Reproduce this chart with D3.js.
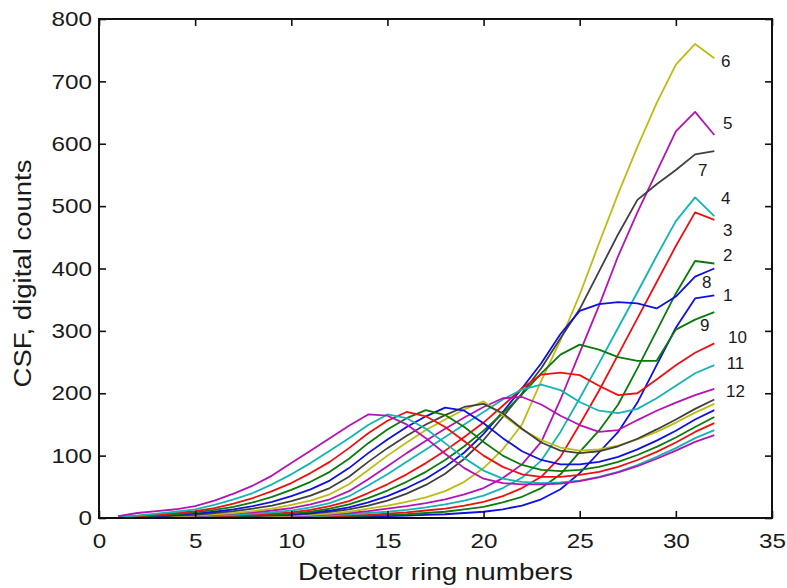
<!DOCTYPE html>
<html>
<head>
<meta charset="utf-8">
<script src="https://cdn.jsdelivr.net/npm/d3@7"></script>
<style>
  body { margin: 0; background: #fff; }
  text { font-family: "Liberation Sans", Arial, sans-serif; fill: #1a1a1a; }
</style>
</head>
<body>
<svg id="chart" width="787" height="588"></svg>
<script>
// detector rings 1..32
const rings = d3.range(1, 33);

// CSF curves, one per source position
const c1  = [0,0,0,0,0,0,0,1,1,1, 1,1,2,2,3,4,5,6,8,10, 14,20,30,46,72,105,138,185,245,305,352,357];
const c2  = [0,0,0,0,0,0,1,1,1,1, 2,2,3,4,5,6,8,10,14,18, 25,34,48,70,106,140,182,240,300,360,412,408];
const c3  = [0,0,0,0,0,1,1,1,1,2, 2,3,4,5,7,9,12,15,20,26, 35,48,66,98,150,204,262,320,378,436,490,478];
const c4  = [0,0,0,0,1,1,1,2,2,3, 3,4,6,8,10,13,17,22,28,36, 48,65,92,138,192,248,305,362,420,476,514,484];
const c5  = [0,0,0,1,1,1,2,2,3,3, 4,6,8,11,15,19,24,30,38,48, 64,86,122,190,265,340,420,490,555,620,651,614];
const c6  = [0,0,0,1,1,1,2,2,3,4, 5,7,10,15,20,26,33,43,58,80, 110,150,220,285,358,440,520,595,665,727,760,737];
const c7  = [0,0,1,1,1,2,2,3,4,5, 7,10,14,20,28,39,53,71,95,125, 162,200,240,288,335,395,455,510,535,558,583,588];
const c8  = [0,0,1,1,1,2,3,4,5,6, 8,12,17,25,35,48,63,82,105,135, 170,208,248,295,332,343,346,344,336,355,387,400];
const c9  = [0,0,1,1,2,2,3,4,5,7, 10,15,22,32,44,58,74,93,115,140, 168,198,232,262,278,270,258,252,252,302,318,330];
const c10 = [0,0,1,1,2,3,4,5,7,9, 13,19,27,40,54,70,88,108,130,153, 180,208,230,233,229,212,197,200,222,245,265,280];
const c11 = [0,1,1,2,3,4,5,7,9,12, 17,24,35,52,70,90,110,130,150,170, 190,206,214,205,186,172,168,175,192,212,232,245];
const c12 = [0,1,1,2,3,5,7,9,12,16, 22,30,43,62,83,104,124,143,161,178, 192,194,182,164,149,138,141,157,172,185,197,207];
const c13 = [0,1,2,3,4,6,8,11,15,21, 28,38,54,77,100,121,141,158,174,187, 165,142,125,113,108,110,116,126,138,153,169,183];
const c14 = [0,1,2,4,5,8,11,15,20,27, 36,48,66,90,112,132,150,165,178,183, 168,143,121,108,104,107,115,127,142,158,175,190];
const c15 = [1,2,3,5,7,10,14,19,26,35, 46,60,80,104,126,146,163,177,172,152, 128,107,93,86,86,90,98,110,124,140,158,173];
const c16 = [1,2,4,6,9,13,18,25,34,45, 58,74,95,120,142,160,173,165,146,122, 100,85,77,75,77,82,90,101,114,129,146,162];
const c17 = [1,3,5,8,11,16,23,32,43,56, 72,90,112,136,156,170,163,146,123,100, 82,70,66,66,69,74,82,93,106,121,138,152];
const c18 = [2,4,7,10,14,21,30,40,54,70, 88,108,128,149,166,160,143,120,96,76, 63,58,56,57,60,66,74,85,98,112,128,141];
const c19 = [3,8,11,14,19,28,39,52,68,88, 108,128,148,166,164,150,128,103,80,63, 56,54,54,55,59,65,73,83,95,108,122,133];

const curves = [c1,c2,c3,c4,c5,c6,c7,c8,c9,c10,c11,c12,c13,c14,c15,c16,c17,c18,c19];

// matlab colour order b g r c m y k
const colorOrder = ["#1010e0", "#0a7a0a", "#ee1010", "#12b4b4", "#b414b4", "#bcbc14", "#404040"];

// curve number labels at the right end (data units)
const labelText = ["6","5","7","4","3","2","8","1","9","10","11","12"];
const labelX    = [32.6, 32.7, 31.4, 32.6, 32.7, 32.7, 31.6, 32.7, 31.5, 33.2, 33.1, 33.1];
const labelY    = [733, 633, 558, 513, 462, 422, 378, 358, 309, 290, 248, 204];

const xTicks = [0,5,10,15,20,25,30,35];
const yTicks = [0,100,200,300,400,500,600,700,800];

const svg = d3.select("#chart");
const plotLeft = 99, plotRight = 772, plotTop = 19, plotBottom = 518;

const x = d3.scaleLinear().domain([0, 35]).range([plotLeft, plotRight]);
const y = d3.scaleLinear().domain([0, 800]).range([plotBottom, plotTop]);

// lines
const line = d3.line().x((d, i) => x(rings[i])).y(d => y(d));
svg.append("g")
  .selectAll("path")
  .data(curves)
  .join("path")
  .attr("d", d => line(d))
  .attr("fill", "none")
  .attr("stroke", (d, i) => colorOrder[i % colorOrder.length])
  .attr("stroke-width", 1.8)
  .attr("stroke-linejoin", "round");

// axes, ticks pointing inwards like matlab
function styleAxis(g) {
  g.select(".domain").remove();
  g.selectAll(".tick line").attr("stroke", "#111").attr("stroke-width", 1.6);
  g.selectAll(".tick text")
    .attr("font-size", "21px")
    .attr("fill", "#1a1a1a")
    .attr("textLength", function() { return this.textContent.length * 13.5; })
    .attr("lengthAdjust", "spacingAndGlyphs");
}

svg.append("g")
  .attr("transform", `translate(0,${plotBottom})`)
  .call(d3.axisBottom(x).tickValues(xTicks).tickSize(-7).tickSizeOuter(0).tickPadding(15))
  .call(styleAxis);

svg.append("g")
  .attr("transform", `translate(${plotLeft},0)`)
  .call(d3.axisLeft(y).tickValues(yTicks).tickSize(-7).tickSizeOuter(0).tickPadding(7))
  .call(styleAxis);

svg.append("g")
  .attr("transform", `translate(0,${plotTop})`)
  .call(d3.axisTop(x).tickValues(xTicks).tickSize(-7).tickSizeOuter(0).tickFormat(""))
  .call(styleAxis);

svg.append("g")
  .attr("transform", `translate(${plotRight},0)`)
  .call(d3.axisRight(y).tickValues(yTicks).tickSize(-7).tickSizeOuter(0).tickFormat(""))
  .call(styleAxis);

// box
svg.append("rect")
  .attr("x", plotLeft).attr("y", plotTop)
  .attr("width", plotRight - plotLeft).attr("height", plotBottom - plotTop)
  .attr("fill", "none")
  .attr("stroke", "#111")
  .attr("stroke-width", 2);

// axis titles
svg.append("text")
  .attr("x", (plotLeft + plotRight) / 2)
  .attr("y", 580)
  .attr("text-anchor", "middle")
  .attr("font-size", "24px")
  .attr("textLength", 275)
  .attr("lengthAdjust", "spacingAndGlyphs")
  .text("Detector ring numbers");

svg.append("text")
  .attr("transform", `translate(31,${(plotTop + plotBottom) / 2 + 5}) rotate(-90)`)
  .attr("text-anchor", "middle")
  .attr("font-size", "23px")
  .attr("textLength", 228)
  .attr("lengthAdjust", "spacingAndGlyphs")
  .text("CSF, digital counts");

// curve numbers
svg.append("g")
  .selectAll("text")
  .data(labelText)
  .join("text")
  .attr("x", (d, i) => x(labelX[i]))
  .attr("y", (d, i) => y(labelY[i]))
  .attr("dy", "0.35em")
  .attr("text-anchor", "middle")
  .attr("font-size", "17px")
  .text(d => d);
</script>
</body>
</html>
